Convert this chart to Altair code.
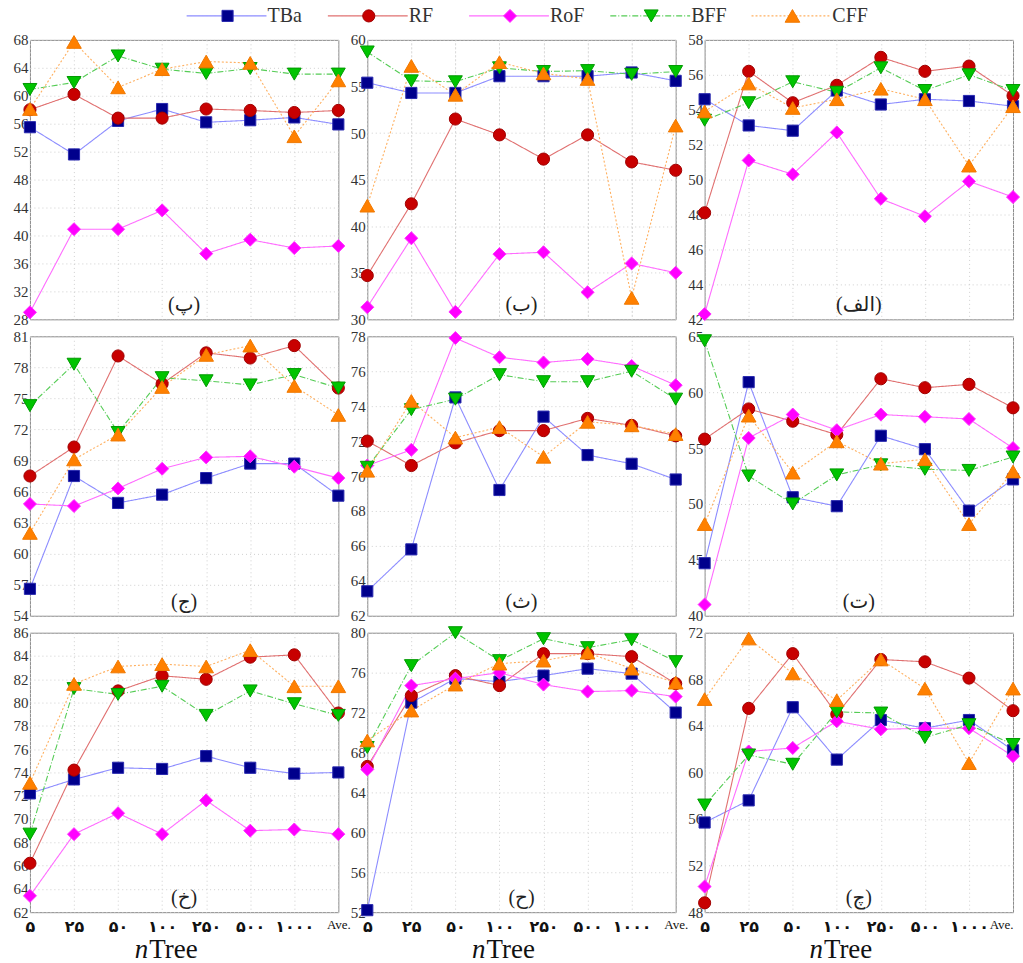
import altair as alt
import pandas as pd

categories = ["۵", "۲۵", "۵۰", "۱۰۰", "۲۵۰", "۵۰۰", "۱۰۰۰", "Ave."]
series_names = ["TBa", "RF", "RoF", "BFF", "CFF"]
panel_labels = ["(پ)", "(ب)", "(الف)", "(ج)", "(ث)", "(ت)", "(خ)", "(ح)", "(چ)"]

# panel (پ)
pe_TBa = [55.5, 51.6, 56.4, 58.1, 56.2, 56.5, 56.9, 55.9]
pe_RF = [58.0, 60.2, 56.8, 56.8, 58.1, 57.9, 57.6, 57.9]
pe_RoF = [29.0, 40.9, 40.9, 43.6, 37.4, 39.4, 38.2, 38.5]
pe_BFF = [60.9, 61.9, 65.7, 63.8, 63.2, 63.9, 63.1, 63.1]
pe_CFF = [58.1, 67.7, 61.2, 63.8, 64.9, 64.7, 54.2, 62.2]
# panel (ب)
be_TBa = [55.4, 54.3, 54.3, 56.1, 56.1, 56.1, 56.5, 55.6]
be_RF = [34.7, 42.4, 51.5, 49.8, 47.2, 49.8, 46.9, 46.0]
be_RoF = [31.3, 38.7, 30.8, 37.0, 37.2, 32.9, 36.0, 35.0]
be_BFF = [58.7, 55.6, 55.5, 57.0, 56.6, 56.7, 56.3, 56.6]
be_CFF = [42.2, 57.2, 54.1, 57.6, 56.4, 55.8, 32.3, 50.8]
# panel (الف)
alef_TBa = [54.6, 53.1, 52.8, 55.1, 54.3, 54.6, 54.5, 54.2]
alef_RF = [48.1, 56.2, 54.4, 55.4, 57.0, 56.2, 56.5, 54.8]
alef_RoF = [42.3, 51.1, 50.3, 52.7, 48.9, 47.9, 49.9, 49.0]
alef_BFF = [53.4, 54.4, 55.6, 55.0, 56.4, 55.1, 56.0, 55.1]
alef_CFF = [53.9, 55.5, 54.1, 54.6, 55.2, 54.6, 50.8, 54.2]
# panel (ج)
jim_TBa = [56.6, 67.5, 64.9, 65.7, 67.3, 68.7, 68.7, 65.6]
jim_RF = [67.5, 70.3, 79.1, 76.4, 79.4, 78.9, 80.1, 76.0]
jim_RoF = [64.8, 64.6, 66.3, 68.2, 69.3, 69.4, 68.4, 67.3]
jim_BFF = [74.3, 78.3, 71.7, 77.0, 76.7, 76.3, 77.3, 76.0]
jim_CFF = [62.0, 69.1, 71.5, 76.1, 79.2, 80.1, 76.2, 73.4]
# panel (ث)
se_TBa = [63.4, 65.8, 74.5, 69.2, 73.4, 71.2, 70.7, 69.8]
se_RF = [72.0, 70.6, 71.9, 72.6, 72.6, 73.3, 72.9, 72.3]
se_RoF = [70.6, 71.5, 77.9, 76.8, 76.5, 76.7, 76.3, 75.2]
se_BFF = [70.5, 73.8, 74.4, 75.8, 75.4, 75.4, 76.0, 74.4]
se_CFF = [70.3, 74.3, 72.2, 72.8, 71.1, 73.1, 72.9, 72.4]
# panel (ت)
te_TBa = [44.7, 60.9, 50.6, 49.8, 56.1, 54.9, 49.4, 52.2]
te_RF = [55.8, 58.5, 57.4, 56.2, 61.2, 60.4, 60.7, 58.6]
te_RoF = [41.0, 55.9, 58.0, 56.6, 58.0, 57.8, 57.6, 55.0]
te_BFF = [64.6, 52.5, 50.0, 52.6, 53.5, 53.1, 53.0, 54.2]
te_CFF = [48.2, 57.9, 52.8, 55.6, 53.6, 54.0, 48.2, 52.9]
# panel (خ)
khe_TBa = [72.2, 73.4, 74.4, 74.3, 75.4, 74.4, 73.9, 74.0]
khe_RF = [66.2, 74.2, 81.0, 82.3, 82.0, 83.9, 84.1, 79.1]
khe_RoF = [63.4, 68.7, 70.5, 68.7, 71.6, 69.0, 69.1, 68.7]
khe_BFF = [68.7, 81.2, 80.7, 81.4, 78.9, 81.0, 79.9, 78.9]
khe_CFF = [73.1, 81.6, 83.1, 83.3, 83.1, 84.5, 81.4, 81.4]
# panel (ح)
he_TBa = [52.2, 73.0, 75.4, 75.1, 75.7, 76.4, 75.9, 72.0]
he_RF = [66.6, 73.7, 75.7, 74.7, 77.9, 77.9, 77.6, 74.9]
he_RoF = [66.3, 74.7, 75.4, 76.0, 74.8, 74.1, 74.2, 73.6]
he_BFF = [68.5, 76.7, 80.0, 77.2, 79.4, 78.5, 79.3, 77.1]
he_CFF = [69.2, 72.2, 74.8, 76.9, 77.2, 78.0, 76.4, 75.0]
# panel (چ)
che_TBa = [55.7, 57.6, 65.6, 61.1, 64.5, 63.8, 64.5, 61.9]
che_RF = [48.8, 65.5, 70.2, 65.0, 69.7, 69.5, 68.1, 65.3]
che_RoF = [50.2, 61.8, 62.1, 64.4, 63.7, 63.8, 63.8, 61.4]
che_BFF = [57.2, 61.5, 60.7, 65.2, 65.1, 63.0, 64.1, 62.4]
che_CFF = [66.3, 71.5, 68.5, 66.2, 69.7, 67.2, 60.8, 67.2]

panel_series = [
    [pe_TBa, pe_RF, pe_RoF, pe_BFF, pe_CFF],
    [be_TBa, be_RF, be_RoF, be_BFF, be_CFF],
    [alef_TBa, alef_RF, alef_RoF, alef_BFF, alef_CFF],
    [jim_TBa, jim_RF, jim_RoF, jim_BFF, jim_CFF],
    [se_TBa, se_RF, se_RoF, se_BFF, se_CFF],
    [te_TBa, te_RF, te_RoF, te_BFF, te_CFF],
    [khe_TBa, khe_RF, khe_RoF, khe_BFF, khe_CFF],
    [he_TBa, he_RF, he_RoF, he_BFF, he_CFF],
    [che_TBa, che_RF, che_RoF, che_BFF, che_CFF],
]
y_domains = [[28, 68], [30, 60], [42, 58], [54, 81], [62, 78], [40, 65], [62, 86], [52, 80], [48, 72]]
y_ticks = [
    [28, 32, 36, 40, 44, 48, 52, 56, 60, 64, 68],
    [30, 35, 40, 45, 50, 55, 60],
    [42, 44, 46, 48, 50, 52, 54, 56, 58],
    [54, 57, 60, 63, 66, 69, 72, 75, 78, 81],
    [62, 64, 66, 68, 70, 72, 74, 76, 78],
    [40, 45, 50, 55, 60, 65],
    [62, 64, 66, 68, 70, 72, 74, 76, 78, 80, 82, 84, 86],
    [52, 56, 60, 64, 68, 72, 76, 80],
    [48, 52, 56, 60, 64, 68, 72],
]

line_colors = ["#8c8cff", "#e07070", "#ff6cff", "#55cc55", "#ffb060"]
fill_colors = ["#00008c", "#c80000", "#ff00ff", "#00c400", "#ff8000"]
edge_colors = ["#2a2ab0", "#a00000", "#ff30ff", "#009a00", "#f07800"]
shapes = ["square", "circle", "diamond", "triangle-down", "triangle-up"]
sizes = [125, 215, 175, 150, 150]
dashes = [[1, 0], [1, 0], [1, 0], [6, 2, 1, 2], [2, 2]]

W, H = 309, 280
GAP = 29
SERIF = "'Liberation Serif', 'DejaVu Sans'"
IS_AVE = "datum.label == 'Ave.'"

line_scale = alt.Scale(domain=series_names, range=line_colors)
fill_scale = alt.Scale(domain=series_names, range=fill_colors)
edge_scale = alt.Scale(domain=series_names, range=edge_colors)
shape_scale = alt.Scale(domain=series_names, range=shapes)
size_scale = alt.Scale(domain=series_names, range=sizes)
dash_scale = alt.Scale(domain=series_names, range=dashes)


def legend_layers():
    # legend drawn above the middle top panel, positioned through its own point scale
    leg_df = pd.DataFrame({"series": series_names})
    left = 29 + W + GAP
    lx = alt.X("series:N", sort=series_names,
               scale=alt.Scale(type="point", padding=0, domain=series_names,
                               range=[227 - left, 793 - left]),
               axis=None)
    ly = alt.value(-24)
    rule = alt.Chart(leg_df).mark_rule(strokeWidth=1.1, xOffset=-41, x2Offset=39).encode(
        x=lx, x2="series:N", y=ly,
        color=alt.Color("series:N", scale=line_scale, legend=None),
        strokeDash=alt.StrokeDash("series:N", scale=dash_scale, legend=None),
    )
    pts = alt.Chart(leg_df).mark_point(filled=True, opacity=1, strokeWidth=1).encode(
        x=lx, y=ly,
        shape=alt.Shape("series:N", scale=shape_scale, legend=None),
        fill=alt.Fill("series:N", scale=fill_scale, legend=None),
        stroke=alt.Stroke("series:N", scale=edge_scale, legend=None),
        size=alt.Size("series:N", scale=size_scale, legend=None),
    )
    txt = alt.Chart(leg_df).mark_text(align="left", dx=40, font="Liberation Serif",
                                      fontSize=20, color="#333", baseline="middle").encode(
        x=lx, y=ly, text="series:N")
    return [rule, pts, txt]


def make_panel(i):
    bottom = i >= 6
    rows = []
    for s, vals in zip(series_names, panel_series[i]):
        for k, (c, v) in enumerate(zip(categories, vals)):
            rows.append({"cat": c, "idx": k, "series": s, "value": v})
    df = pd.DataFrame(rows)
    if bottom:
        ave_align = "right" if i == 8 else "center"
        xaxis = alt.Axis(
            title=None, ticks=False, domain=False, grid=True, labelAngle=0,
            gridColor="#cfcfcf", gridDash=[1, 3],
            labelColor="#111", labelPadding=6, labelOverlap=False, labelBaseline="top",
            labelFont={"condition": {"test": IS_AVE, "value": "Liberation Serif"}, "value": "DejaVu Sans"},
            labelFontSize={"condition": {"test": IS_AVE, "value": 13}, "value": 16},
            labelFontWeight={"condition": {"test": IS_AVE, "value": "normal"}, "value": "bold"},
            labelAlign={"condition": {"test": IS_AVE, "value": ave_align}, "value": "center"},
        )
    else:
        xaxis = alt.Axis(title=None, ticks=False, domain=False, labels=False, grid=True,
                         gridColor="#cfcfcf", gridDash=[1, 3])
    x = alt.X("cat:N", sort=categories,
              scale=alt.Scale(type="point", padding=0, domain=categories), axis=xaxis)
    y = alt.Y("value:Q", scale=alt.Scale(domain=y_domains[i], nice=False, zero=False),
              axis=alt.Axis(values=y_ticks[i], title=None, ticks=False, domain=False, grid=True,
                            gridColor="#cfcfcf", gridDash=[1, 3],
                            labelFont="Liberation Serif", labelFontSize=15, labelColor="#333",
                            labelPadding=2, labelFlush=False, labelOverlap=False,
                            minExtent=29, maxExtent=29))
    base = alt.Chart(df)
    lines = base.mark_line(strokeWidth=1.1).encode(
        x=x, y=y, order="idx:Q",
        color=alt.Color("series:N", scale=line_scale, legend=None),
        strokeDash=alt.StrokeDash("series:N", scale=dash_scale, legend=None),
    )
    pts = base.mark_point(filled=True, opacity=1, strokeWidth=1).encode(
        x=x, y=y,
        shape=alt.Shape("series:N", scale=shape_scale, legend=None),
        fill=alt.Fill("series:N", scale=fill_scale, legend=None),
        stroke=alt.Stroke("series:N", scale=edge_scale, legend=None),
        size=alt.Size("series:N", scale=size_scale, legend=None),
    )
    lab = alt.Chart(pd.DataFrame({"label": [panel_labels[i]]})).mark_text(
        font=SERIF, fontSize=20, color="#222", baseline="middle"
    ).encode(text="label:N", x=alt.value(W / 2), y=alt.value(H - 14))
    layers = [lines, pts, lab]
    if bottom:
        n_t = alt.Chart(pd.DataFrame({"t": ["n"]})).mark_text(
            font="Liberation Serif", fontSize=27, fontStyle="italic", align="right",
            baseline="alphabetic", color="#111"
        ).encode(text="t:N", x=alt.value(W / 2 - 36), y=alt.value(H + 46))
        tree_t = alt.Chart(pd.DataFrame({"t": ["Tree"]})).mark_text(
            font="Liberation Serif", fontSize=27, align="left",
            baseline="alphabetic", color="#111"
        ).encode(text="t:N", x=alt.value(W / 2 - 35), y=alt.value(H + 46))
        layers += [n_t, tree_t]
    if i == 1:
        layers += legend_layers()
        return alt.layer(*layers).resolve_scale(x="independent").properties(width=W, height=H)
    return alt.layer(*layers).properties(width=W, height=H)


panels = [make_panel(i) for i in range(9)]
chart = alt.concat(*panels, columns=3, spacing={"row": 17, "column": GAP}, bounds="flush").properties(
    padding={"left": 0, "top": 4, "right": 0, "bottom": 0}, background="white"
).configure_view(stroke="#8a8a8a", strokeWidth=1)

chart.save("out.html", embed_options={"renderer": "svg", "actions": False})
